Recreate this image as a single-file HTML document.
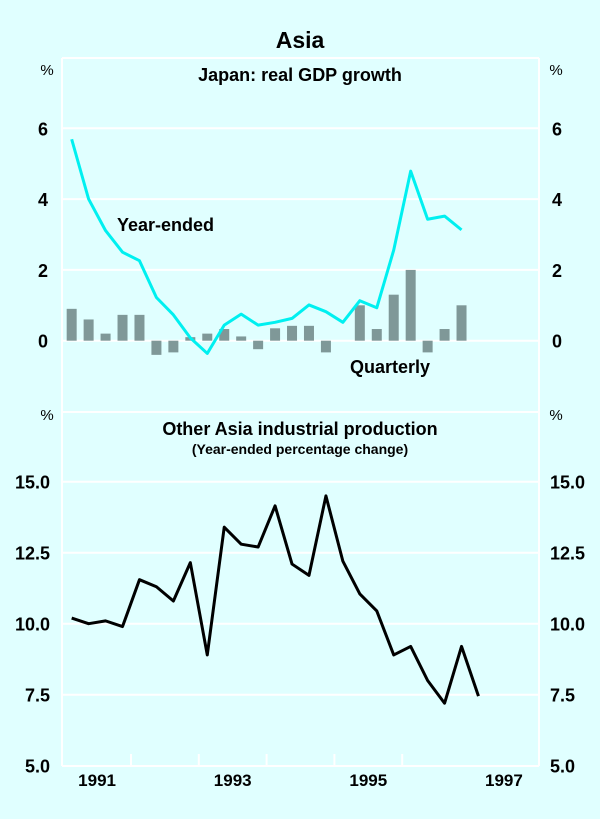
<!DOCTYPE html>
<html><head><meta charset="utf-8"><style>
html,body{margin:0;padding:0;background:#e0ffff;}
svg{display:block;font-family:"Liberation Sans",Arial,sans-serif;}
</style></head><body>
<svg id="c" width="600" height="819">
<rect width="600" height="819" fill="#e0ffff"/>
<text x="300" y="48" text-anchor="middle" font-size="23" font-weight="bold">Asia</text>
<g id="frame">
<line x1="62" y1="58" x2="539" y2="58" stroke="#fff" stroke-width="2"/>
<line x1="62" y1="58" x2="62" y2="766" stroke="#fff" stroke-width="2"/>
<line x1="539" y1="58" x2="539" y2="766" stroke="#fff" stroke-width="2"/>
<line x1="62" y1="412" x2="539" y2="412" stroke="#fff" stroke-width="2"/>
<line x1="62" y1="766" x2="539" y2="766" stroke="#fff" stroke-width="2"/>
</g>
<text x="300" y="81" text-anchor="middle" font-size="18" font-weight="bold">Japan: real GDP growth</text>
<text x="300" y="435" text-anchor="middle" font-size="18" font-weight="bold">Other Asia industrial production</text>
<text x="300" y="454" text-anchor="middle" font-size="14" font-weight="bold">(Year-ended percentage change)</text>
<text x="47" y="75" text-anchor="middle" font-size="15">%</text>
<text x="556" y="75" text-anchor="middle" font-size="15">%</text>
<text x="47" y="420" text-anchor="middle" font-size="15">%</text>
<text x="556" y="420" text-anchor="middle" font-size="15">%</text>
<text x="117" y="231" font-size="18" font-weight="bold">Year-ended</text>
<text x="350" y="373" font-size="18" font-weight="bold">Quarterly</text>
<g id="g"></g>
</svg>
<script>
const gdpTicks = [0, 2, 4, 6];
const ipTicks = [5.0, 7.5, 10.0, 12.5, 15.0];
const yearLabels = [1991, 1993, 1995, 1997];
const gdpYearEnded = [5.69,4.0,3.11,2.50,2.26,1.22,0.73,0.08,-0.36,0.44,0.75,0.44,0.52,0.63,1.01,0.82,0.52,1.13,0.93,2.56,4.79,3.43,3.52,3.13];
const gdpQuarterly = [0.9,0.6,0.2,0.73,0.73,-0.4,-0.33,0.1,0.2,0.33,0.12,-0.24,0.35,0.42,0.42,-0.33,0,1.0,0.33,1.3,2.0,-0.33,0.33,1.0];
const otherAsiaIP = [10.2,10.0,10.1,9.9,11.55,11.3,10.8,12.15,8.9,13.4,12.8,12.7,14.15,12.1,11.7,14.5,12.2,11.05,10.45,8.9,9.2,8.0,7.2,9.2,7.45];

const NS='http://www.w3.org/2000/svg';
const g=document.getElementById('g');
function el(t,a,p){const e=document.createElementNS(NS,t);for(const k in a)e.setAttribute(k,a[k]);(p||g).appendChild(e);return e;}
const xYear=y=>63.2+(y-1991)*67.8;
const xQ=i=>xYear(1991+(i+0.5)/4);
const yTop=v=>340.7-v*35.4;
const yBot=v=>765.7-(v-5)*28.4;

gdpTicks.forEach(v=>{
  const y=yTop(v);
  if(v>0){const l=el('line',{x1:62,x2:539,y1:y,y2:y,stroke:'#fff','stroke-width':2});
  
  }
  const a=el('text',{x:48,y:y+7,'text-anchor':'end','font-size':18,'font-weight':'bold'});a.textContent=v;
  
  
  const b=el('text',{x:552,y:y+7,'font-size':18,'font-weight':'bold'});b.textContent=v;
  
  
});
const zl=el('line',{x1:62,x2:539,y1:yTop(0),y2:yTop(0),stroke:'#fff','stroke-width':2});


ipTicks.forEach(v=>{
  const y=yBot(v);
  if(v>5&&v<15.01){const l=el('line',{x1:62,x2:539,y1:y,y2:y,stroke:'#fff','stroke-width':2});
  
  }
  const a=el('text',{x:50,y:y+7,'text-anchor':'end','font-size':18,'font-weight':'bold'});a.textContent=v.toFixed(1);
  
  
  const b=el('text',{x:550,y:y+7,'font-size':18,'font-weight':'bold'});b.textContent=v.toFixed(1);
  
  
});
for(let yr=1992;yr<=1996;yr++){
  const x=xYear(yr);
  const t=el('line',{x1:x,x2:x,y1:754,y2:766,stroke:'#fff','stroke-width':2});
  
  
}
yearLabels.forEach(yr=>{
  const t=el('text',{x:xYear(yr+0.5),y:786,'text-anchor':'middle','font-size':17,'font-weight':'bold'});t.textContent=yr;
  
  
});
gdpQuarterly.forEach((v,i)=>{
  if(v===0)return;
  const y0=yTop(0),y1=yTop(v);
  const r=el('rect',{x:xQ(i)-5,y:Math.min(y0,y1),width:10,height:Math.abs(y1-y0),fill:'#7f9898'});
  
  
});
const p1=el('polyline',{points:gdpYearEnded.map((v,i)=>xQ(i)+','+yTop(v)).join(' '),fill:'none',stroke:'#00f0f0','stroke-width':3,'stroke-linejoin':'round'});


const p2=el('polyline',{points:otherAsiaIP.map((v,i)=>xQ(i)+','+yBot(v)).join(' '),fill:'none',stroke:'#000','stroke-width':3,'stroke-linejoin':'round'});


</script>
</body></html>
